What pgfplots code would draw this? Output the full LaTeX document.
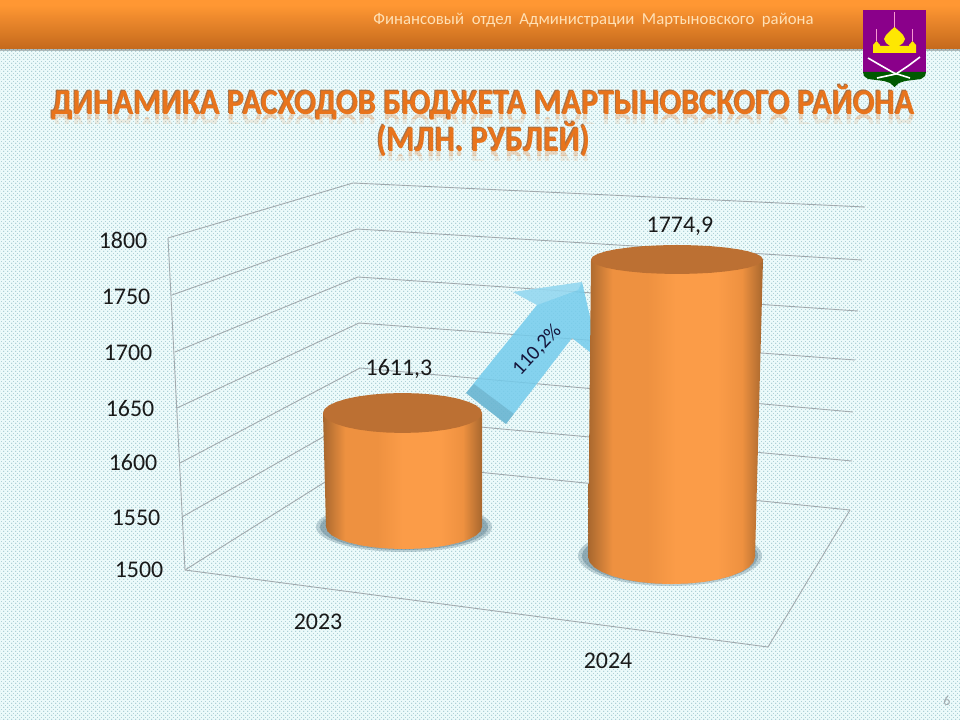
\documentclass[border=0pt]{standalone}
\usepackage{fontspec}
\setmainfont{Carlito}
\usepackage{pgfplots}
\pgfplotsset{compat=1.18}
\usetikzlibrary{patterns}

\definecolor{bgpale}{HTML}{ECFAFA}
\definecolor{bgdot}{HTML}{5A98A6}
\definecolor{gridc}{HTML}{A2AAAE}
\definecolor{cyltop}{HTML}{BC7033}
\definecolor{titleor}{HTML}{E8741C}
\definecolor{titlebr}{HTML}{A87044}
\definecolor{labelc}{HTML}{1A1A1A}
\definecolor{arrowc}{HTML}{74CCEC}
\definecolor{cyledge}{HTML}{A8672E}
\definecolor{cylmid}{HTML}{EE9140}
\definecolor{cylhi}{HTML}{FB9C48}
\definecolor{headtop}{HTML}{FF9733}
\definecolor{headbot}{HTML}{C4691C}
\definecolor{shadowc}{HTML}{4F7485}

% staggered dots of the slide background
\pgfdeclarepatternformonly{slidedots}{\pgfqpoint{0bp}{0bp}}{\pgfqpoint{4bp}{4bp}}{\pgfqpoint{4bp}{4bp}}{%
  \pgfpathrectangle{\pgfqpoint{0.5bp}{0.5bp}}{\pgfqpoint{0.9bp}{0.9bp}}%
  \pgfpathrectangle{\pgfqpoint{2.5bp}{2.5bp}}{\pgfqpoint{0.9bp}{0.9bp}}%
  \pgfusepath{fill}}

\pgfdeclarehorizontalshading{cylbody}{100bp}{%
  color(0bp)=(cyledge);
  color(25bp)=(cyledge);
  color(32bp)=(cylmid);
  color(42bp)=(cylmid);
  color(50bp)=(cylhi);
  color(62bp)=(cylhi);
  color(69bp)=(cylmid);
  color(75bp)=(cyledge);
  color(100bp)=(cyledge)}
\pgfdeclareverticalshading{headerbar}{100bp}{%
  color(0bp)=(headbot);
  color(25bp)=(headbot);
  color(70bp)=(headtop);
  color(100bp)=(headtop)}

\pgfplotsset{canvas/.style={
    scale only axis, hide axis, clip=false,
    width=960bp, xmin=0, xmax=960}}

\newcommand{\fs}[1]{\fontsize{#1}{#1}\selectfont}
\newcommand{\titleone}{\bfseries\fs{32.2}ДИНАМИКА РАСХОДОВ БЮДЖЕТА МАРТЫНОВСКОГО РАЙОНА}
\newcommand{\titletwo}{\bfseries\fs{32.2}(МЛН. РУБЛЕЙ)}

\begin{document}
\begin{tikzpicture}
% slide, walls and labels: y runs downward in pixels of the slide
\begin{axis}[canvas, at={(0bp,0bp)}, height=720bp, ymin=0, ymax=720, y dir=reverse]
  \addplot[draw=none, fill=bgpale] coordinates {(0,0) (960,0) (960,720) (0,720)} -- cycle;
  \addplot[draw=none, pattern=slidedots, pattern color=bgdot] coordinates {(0,0) (960,0) (960,720) (0,720)} -- cycle;
  \addplot[draw=none, fill=black, fill opacity=.25] coordinates {(0,48) (960,48) (960,51) (0,51)} -- cycle;
  \addplot[draw=none, shading=headerbar] coordinates {(0,0) (960,0) (960,49) (0,49)} -- cycle;
  \node[text=orange!25!white!95!yellow] at (axis cs:593.5,20) {\fs{16.8}Финансовый\ \ отдел\ \ Администрации\ \ Мартыновского\ \ района};

  % coat of arms
  \addplot[draw=none, fill=black!15!violet!80!magenta] coordinates {(863,10) (926,10) (926,72) (863,72)} -- cycle;
  \addplot[draw=none, fill=green!35!black] coordinates {(863,72) (926,72) (925,76) (921,79) (905,81) (899,83) (894.5,87) (890,83) (884,81) (868,79) (864,76)} -- cycle;
  \addplot[draw=none, fill=yellow!90!orange] coordinates {(894.5,27) (899,31) (903,35) (905,39) (903,43) (899,46) (890,46) (886,43) (884,39) (886,35) (890,31)} -- cycle;
  \addplot[draw=none, fill=yellow!90!orange] coordinates {(880,46) (909,46) (913,50) (916,50) (916,53) (873,53) (873,50) (876,50)} -- cycle;
  \addplot[draw=none, fill=yellow!90!orange] coordinates {(876.5,41) (880,45) (880,50) (873,50) (873,45)} -- cycle;
  \addplot[draw=none, fill=yellow!90!orange] coordinates {(912.5,41) (916,45) (916,50) (909,50) (909,45)} -- cycle;
  \addplot[line width=1.2bp, color=magenta!40!white] coordinates {(894.5,12) (894.5,27)};
  \addplot[line width=1bp, color=magenta!40!white] coordinates {(876.5,29) (876.5,41)};
  \addplot[line width=1bp, color=magenta!40!white] coordinates {(912.5,29) (912.5,41)};
  \addplot[line width=1.6bp, color=white] coordinates {(868,58) (880,65) (894,73) (910,78)};
  \addplot[line width=1.6bp, color=white] coordinates {(920,57) (908,66) (896,74) (877,78)};

  % title with its reflection, fading in two bands
  \begin{scope}
    \clip (axis cs:0,115) rectangle (axis cs:960,119);
    \node[text=titleor, opacity=.26, yscale=-1.12, anchor=base] at (axis cs:482.5,114.5) {\titleone};
  \end{scope}
  \begin{scope}
    \clip (axis cs:0,119) rectangle (axis cs:960,124);
    \node[text=titleor, opacity=.11, yscale=-1.12, anchor=base] at (axis cs:482.5,114.5) {\titleone};
  \end{scope}
  \begin{scope}
    \clip (axis cs:0,152) rectangle (axis cs:960,156);
    \node[text=titleor, opacity=.26, yscale=-1.12, anchor=base] at (axis cs:483,151.5) {\titletwo};
  \end{scope}
  \begin{scope}
    \clip (axis cs:0,156) rectangle (axis cs:960,161);
    \node[text=titleor, opacity=.11, yscale=-1.12, anchor=base] at (axis cs:483,151.5) {\titletwo};
  \end{scope}
  \node[text=titlebr, yscale=1.12, anchor=base] at (axis cs:482,113.6) {\titleone};
  \node[text=titlebr, yscale=1.12, anchor=base] at (axis cs:482.5,150.6) {\titletwo};
  \node[text=titleor, yscale=1.12, anchor=base] at (axis cs:483,114.4) {\titleone};
  \node[text=titleor, yscale=1.12, anchor=base] at (axis cs:483.5,151.4) {\titletwo};

  % walls and floor
  \addplot[gridc, line width=.9bp] coordinates {(168,238) (353,183) (865,207)};
  \addplot[gridc, line width=.9bp] coordinates {(172,295) (357,229) (862,260)};
  \addplot[gridc, line width=.9bp] coordinates {(175,352) (358,277) (858,311)};
  \addplot[gridc, line width=.9bp] coordinates {(177,408) (359,323) (855,360)};
  \addplot[gridc, line width=.9bp] coordinates {(180,463) (360,368) (853,412)};
  \addplot[gridc, line width=.9bp] coordinates {(182,517) (360,416) (852,461)};
  \addplot[gridc, line width=.9bp] coordinates {(185,570) (360,460) (850,510)};
  \addplot[gridc, line width=.9bp] coordinates {(168,238) (185,570) (768,647) (850,510)};

  % axis labels
  \node[text=labelc] at (axis cs:123,240) {\fs{24}1800};
  \node[text=labelc] at (axis cs:126,297) {\fs{24}1750};
  \node[text=labelc] at (axis cs:128,353) {\fs{24}1700};
  \node[text=labelc] at (axis cs:130,409) {\fs{24}1650};
  \node[text=labelc] at (axis cs:133,463) {\fs{24}1600};
  \node[text=labelc] at (axis cs:136,518) {\fs{24}1550};
  \node[text=labelc] at (axis cs:139,570) {\fs{24}1500};
  \node[text=labelc] at (axis cs:318,622) {\fs{24}2023};
  \node[text=labelc] at (axis cs:608,661) {\fs{24}2024};
  \node[text=labelc] at (axis cs:399,369) {\fs{24}1611,3};
  \node[text=labelc] at (axis cs:680,226) {\fs{24}1774,9};
  \node[text=gridc] at (axis cs:947,701) {\fs{14}6};

  % growth arrow
  \addplot[draw=none, fill=arrowc, fill opacity=.85] coordinates {(466,393) (506,424) (572,338) (600,360) (582,282) (513,292) (537,305)} -- cycle;
  \addplot[draw=none, fill=white, fill opacity=.2] coordinates {(513,292) (582,282) (578,290) (537,305)} -- cycle;
  \addplot[draw=none, fill=black!40!arrowc, fill opacity=.25] coordinates {(466,393) (506,424) (514,414) (474,384)} -- cycle;
  \node[text=labelc!85!blue, rotate=47] at (axis cs:537,350) {\fs{20.5}110,2\%};

  % contact shadows of the cylinders
  \fill[shadowc, opacity=.30] (axis cs:404,527) ellipse [x radius=88, y radius=25];
  \fill[shadowc, opacity=.40] (axis cs:404,527) ellipse [x radius=84, y radius=23];
  \fill[shadowc, opacity=.30] (axis cs:670,556) ellipse [x radius=92, y radius=30];
  \fill[shadowc, opacity=.40] (axis cs:670,556) ellipse [x radius=88, y radius=28];
\end{axis}

% 2023 cylinder: y is the value in mln roubles
\begin{axis}[canvas, at={(0bp,193bp)}, height=114bp, ymin=1500, ymax=1611.3]
  \addplot[draw=none, shading=cylbody] coordinates {
    (323,1611.3) (482,1611.3)
    (482,1500) (480.5,1495.8) (476.1,1491.8) (468.8,1488) (459.1,1484.8) (447.4,1482.1) (433.9,1480.1) (419.2,1478.9)
    (404,1478.5) (388.8,1478.9) (374.1,1480.1) (360.6,1482.1) (348.9,1484.8) (339.2,1488) (331.9,1491.8) (327.5,1495.8) (326,1500)
  } -- cycle;
  \addplot[draw=none, fill=cyltop] coordinates {
    (482,1611.3) (480.5,1615.1) (476,1618.8) (468.6,1622.1) (458.7,1625.1) (446.7,1627.5) (432.9,1629.3) (418,1630.4)
    (402.5,1630.8) (387,1630.4) (372.1,1629.3) (358.3,1627.5) (346.3,1625.1) (336.4,1622.1) (329,1618.8) (324.5,1615.1)
    (323,1611.3) (324.5,1607.5) (329,1603.8) (336.4,1600.5) (346.3,1597.5) (358.3,1595.1) (372.1,1593.3) (387,1592.2)
    (402.5,1591.8) (418,1592.2) (432.9,1593.3) (446.7,1595.1) (458.7,1597.5) (468.6,1600.5) (476,1603.8) (480.5,1607.5)
  } -- cycle;
\end{axis}

% 2024 cylinder
\begin{axis}[canvas, at={(0bp,163bp)}, height=297.5bp, ymin=1500, ymax=1774.9]
  \addplot[draw=none, shading=cylbody] coordinates {
    (591,1774.9) (763,1774.9)
    (755,1500) (753.4,1495.1) (748.7,1490.4) (740.9,1486.1) (730.5,1482.3) (717.9,1479.2) (703.5,1476.9) (687.8,1475.5)
    (671.5,1475) (655.2,1475.5) (639.5,1476.9) (625.1,1479.2) (612.5,1482.3) (602.1,1486.1) (594.3,1490.4) (589.6,1495.1) (588,1500)
  } -- cycle;
  \addplot[draw=none, fill=cyltop] coordinates {
    (763,1774.9) (761.4,1777.5) (756.5,1780) (748.5,1782.4) (737.8,1784.4) (724.8,1786) (709.9,1787.3) (693.8,1788)
    (677,1788.3) (660.2,1788) (644.1,1787.3) (629.2,1786) (616.2,1784.4) (605.5,1782.4) (597.5,1780) (592.6,1777.5)
    (591,1774.9) (592.6,1772.3) (597.5,1769.8) (605.5,1767.4) (616.2,1765.4) (629.2,1763.8) (644.1,1762.5) (660.2,1761.8)
    (677,1761.5) (693.8,1761.8) (709.9,1762.5) (724.8,1763.8) (737.8,1765.4) (748.5,1767.4) (756.5,1769.8) (761.4,1772.3)
  } -- cycle;
\end{axis}
\end{tikzpicture}
\end{document}
